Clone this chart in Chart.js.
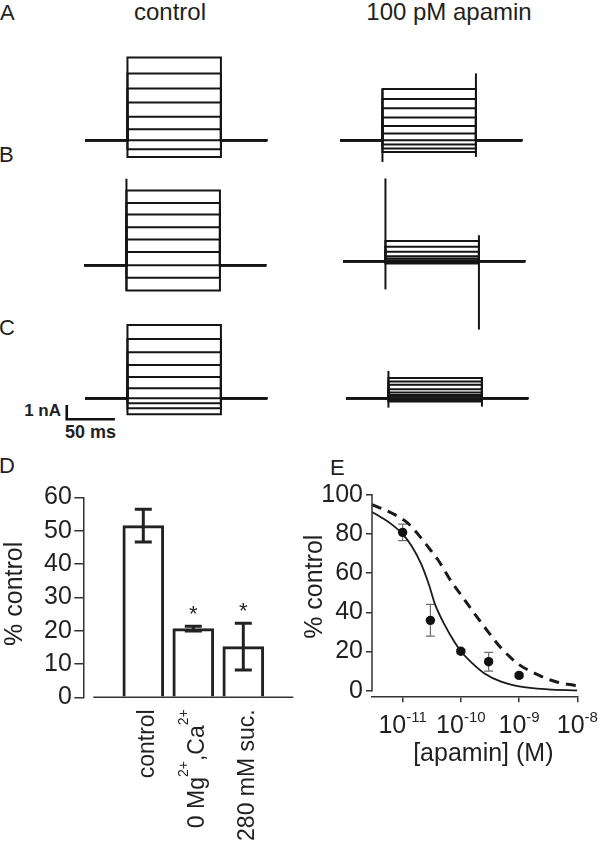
<!DOCTYPE html>
<html><head><meta charset="utf-8">
<script src="https://cdn.jsdelivr.net/npm/chart.js@4/dist/chart.umd.min.js"></script>
<style>
html,body{margin:0;padding:0;background:#fff;}
body{width:600px;height:845px;position:relative;overflow:hidden;font-family:"Liberation Sans",Arial,Helvetica,sans-serif;color:#231f20;}
canvas{position:absolute;}
.t{position:absolute;white-space:nowrap;line-height:1;}
</style></head><body>
<div class="t" style="left:0px;top:2px;font-size:22px">A</div>
<div class="t" style="left:-1px;top:144px;font-size:22px">B</div>
<div class="t" style="left:-1px;top:317px;font-size:22px">C</div>
<div class="t" style="left:-1px;top:455px;font-size:22px">D</div>
<div class="t" style="left:330px;top:457px;font-size:22px">E</div>
<div class="t" style="left:170px;top:0px;font-size:24px;transform:translateX(-50%)">control</div>
<div class="t" style="left:449px;top:0px;font-size:24px;transform:translateX(-50%)">100 pM apamin</div>
<div class="t" style="left:61px;top:402px;font-size:17px;font-weight:bold;transform:translateX(-100%)">1 nA</div>
<div class="t" style="left:65px;top:423px;font-size:18px;font-weight:bold">50 ms</div>
<script>
// ---------------- data ----------------
// voltage-step sweeps: [sweep start, pulse on, pulse off, sweep end] in ms
const sweepTimes = [-44, 0, 97, 145];
// steady current levels during the pulse (nA, relative to holding baseline)
const ctrlA = [5.77, 4.65, 3.61, 2.63, 1.63, 0.77, 0, -0.63, -1.17];
const apaA  = [3.57, 2.87, 2.22, 1.59, 0.98, 0.47, 0, -0.30, -0.58, -0.82];
const ctrlB = [5.21, 4.33, 3.54, 2.65, 1.79, 0.91, 0, -0.88, -1.77];
const apaB  = [1.40, 1.00, 0.65, 0.35, 0.19, 0.07, 0, -0.08, -0.16];
const ctrlC = [5.11, 4.12, 3.21, 2.32, 1.47, 0.70, 0, -0.35, -0.70, -1.12];
const apaC  = [1.40, 1.16, 0.93, 0.63, 0.40, 0.22, 0.10, 0, -0.12, -0.23];
// capacitive transients [min, max] (nA) at pulse on / pulse off
const apaASpikes  = [[-1.52, 3.57], [-1.17, 4.66]];
const ctrlBSpikes = [[-1.77, 6.03], null];
const apaBSpikes  = [[-1.97, 5.77], [-4.77, 1.81]];
const apaCSpikes  = [[-0.66, 1.90], [-0.59, 1.40]];
// scale bar: origin (ms, nA) and size (ms, nA)
const scaleBarOrigin = [-63, -1.47];
const scaleBarSize = [50, 1];

// panel D
const dCategories = ['control', '0 Mg²⁺,Ca²⁺', '280 mM suc.'];
const dValues = [51.5, 20.6, 15.2];
const dErrors = [4.9, 0.7, 7.0];
const dStars = ['', '*', '*'];
const dYTicks = [0, 10, 20, 30, 40, 50, 60];

// panel E
const eConc = [1e-11, 3e-11, 1e-10, 3e-10, 1e-9];
const eValues = [80.8, 35.9, 20.1, 14.8, 7.8];
const eErrors = [4.2, 8.1, 1.0, 4.8, 1.0];
const eSolidX = [2.98e-12, 4.31e-12, 6.40e-12, 1.0e-11, 1.41e-11, 2.09e-11, 2.90e-11, 3.54e-11, 5.25e-11, 7.78e-11, 1.0e-10, 1.50e-10, 2.55e-10, 4.91e-10, 1.0e-9, 3.10e-9, 1.0e-8];
const eSolidY = [91.2, 88.4, 85.0, 79.9, 74.1, 64.6, 53.2, 44.7, 33.7, 24.8, 20.1, 14.6, 8.8, 4.6, 2.2, 0.7, 0.2];
const eDashX = [2.98e-12, 4.91e-12, 8.32e-12, 1.23e-11, 1.83e-11, 2.55e-11, 4.04e-11, 6.82e-11, 1.0e-10, 1.69e-10, 2.90e-10, 4.91e-10, 1.0e-9, 1.83e-9, 4.04e-9, 1.0e-8];
const eDashY = [94.9, 92.3, 88.9, 85.5, 79.9, 74.5, 66.8, 55.8, 49.0, 39.6, 30.3, 21.8, 13.3, 9.0, 4.8, 2.4];
const eXTicks = [1e-11, 1e-10, 1e-9, 1e-8];
const eXTickLabels = ['10⁻¹¹', '10⁻¹⁰', '10⁻⁹', '10⁻⁸'];
const eYTicks = [0, 20, 40, 60, 80, 100];

// ---------------- helpers ----------------
const FONT = '"Liberation Sans", Arial, Helvetica, sans-serif';
const INK = '#231f20';
Chart.defaults.font.family = FONT;
Chart.defaults.color = INK;
const SUP = {'⁰':'0','¹':'1','²':'2','³':'3','⁴':'4','⁵':'5','⁶':'6','⁷':'7','⁸':'8','⁹':'9','⁺':'+','⁻':'-'};
function runs(text){
  const out = [];
  for (const ch of text){
    const sup = ch in SUP; const c = sup ? SUP[ch] : ch;
    const last = out[out.length-1];
    if (last && last.sup === sup) last.t += c; else out.push({t:c, sup});
  }
  return out;
}
function richWidth(ctx, text, size, supSize){
  let w = 0;
  for (const r of runs(text)){ ctx.font = `${r.sup?supSize:size}px ${FONT}`; w += ctx.measureText(r.t).width; }
  return w;
}
function drawRich(ctx, text, x, y, size, supSize, raise){
  let cx = x;
  ctx.textAlign = 'left'; ctx.textBaseline = 'alphabetic';
  for (const r of runs(text)){
    ctx.font = `${r.sup?supSize:size}px ${FONT}`;
    ctx.fillText(r.t, cx, r.sup ? y - raise : y);
    cx += ctx.measureText(r.t).width;
  }
}
function makeCanvas(left, top, w, h){
  const cv = document.createElement('canvas');
  cv.width = w; cv.height = h;
  cv.style.left = left + 'px'; cv.style.top = top + 'px';
  cv.style.width = w + 'px'; cv.style.height = h + 'px';
  document.body.appendChild(cv);
  return cv;
}

// ---------------- trace panels A-C ----------------
function traceCell(left, top, levels, spikes, withBar){
  const cv = makeCanvas(left, top, 212, 172);
  const [t0, on, off, t1] = sweepTimes;
  const ds = levels.map(L => ({data:[{x:t0,y:0},{x:on,y:0},{x:on,y:L},{x:off,y:L},{x:off,y:0},{x:t1,y:0}]}));
  if (spikes) [on, off].forEach((t, k) => { const s = spikes[k]; if (s) ds.push({data:[{x:t,y:s[0]},{x:t,y:s[1]}]}); });
  if (withBar){
    const [bx, by] = scaleBarOrigin, [bw, bh] = scaleBarSize;
    ds.push({data:[{x:bx,y:by+bh},{x:bx,y:by},{x:bx+bw,y:by}], borderWidth:2.6, borderColor:'#111'});
  }
  new Chart(cv, {
    type:'line',
    data:{datasets: ds.map(d => Object.assign({borderColor:'#151515', borderWidth:2, pointRadius:0, tension:0, borderJoinStyle:'miter', borderCapStyle:'butt', fill:false}, d))},
    options:{
      responsive:false, animation:false, devicePixelRatio:1,
      layout:{padding:0},
      plugins:{legend:{display:false}, tooltip:{enabled:false}},
      scales:{
        x:{type:'linear', min:-70, max:150, display:false},
        y:{type:'linear', min:-5.5, max:6.5, display:false}
      }
    }
  });
}
traceCell(60, 47, ctrlA, null, false);
traceCell(315, 47, apaA, apaASpikes, false);
traceCell(59, 172, ctrlB, ctrlBSpikes, false);
traceCell(318, 168, apaB, apaBSpikes, false);
traceCell(60, 305, ctrlC, null, true);
traceCell(321, 305, apaC, apaCSpikes, false);

// ---------------- panel D ----------------
const cD = makeCanvas(0, 440, 300, 405);
new Chart(cD, {
  type:'bar',
  data:{datasets:[{
    data: dValues.map((v,i) => ({x:i+1, y:v})),
    backgroundColor:'#fff', borderColor:'#222', borderWidth:3, borderSkipped:'start', barThickness:41
  }]},
  options:{
    responsive:false, animation:false, devicePixelRatio:1,
    layout:{padding:{left:0, top:57.3, right:6.7, bottom:0}},
    plugins:{legend:{display:false}, tooltip:{enabled:false}},
    scales:{
      x:{type:'linear', min:-0.2, max:4, offset:false, grid:{display:false}, border:{display:false}, ticks:{display:false},
         afterFit: s => { s.height = 147.7; }},
      y:{type:'linear', min:0, max:60, offset:false,
         afterBuildTicks: s => { s.ticks = dYTicks.map(v => ({value:v})); },
         ticks:{font:{size:25}, color:INK, padding:2.5},
         grid:{drawOnChartArea:false, tickLength:9, color:'#333', lineWidth:1.5},
         border:{color:'#333', width:1.5},
         afterFit: s => { s.width = 83.3; }}
    }
  },
  plugins:[{
    id:'dExtras',
    afterDatasetsDraw(chart){
      const {ctx, scales:{x, y}} = chart;
      ctx.save();
      // x axis line (offset from y axis)
      const y0 = y.getPixelForValue(0);
      ctx.strokeStyle = '#333'; ctx.lineWidth = 1.5;
      ctx.beginPath(); ctx.moveTo(x.getPixelForValue(0), y0); ctx.lineTo(x.getPixelForValue(4), y0); ctx.stroke();
      // error bars
      ctx.strokeStyle = '#222'; ctx.lineWidth = 3;
      dValues.forEach((v, i) => {
        const px = x.getPixelForValue(i+1);
        const hi = y.getPixelForValue(v + dErrors[i]), lo = y.getPixelForValue(v - dErrors[i]);
        ctx.beginPath();
        ctx.moveTo(px, hi); ctx.lineTo(px, lo);
        ctx.moveTo(px-8.5, hi); ctx.lineTo(px+8.5, hi);
        ctx.moveTo(px-8.5, lo); ctx.lineTo(px+8.5, lo);
        ctx.stroke();
        if (dStars[i]){
          ctx.fillStyle = INK; ctx.font = `22px ${FONT}`; ctx.textAlign = 'center'; ctx.textBaseline = 'alphabetic';
          ctx.fillText(dStars[i], px, Math.min(hi, y.getPixelForValue(v)) - 5);
        }
      });
      // rotated category labels
      ctx.fillStyle = INK;
      dCategories.forEach((lab, i) => {
        const px = x.getPixelForValue(i+1);
        const w = richWidth(ctx, lab, 23, 14);
        ctx.save();
        ctx.translate(px + 11, y0 + 12);
        ctx.rotate(-Math.PI/2);
        drawRich(ctx, lab, -w, 0, 23, 14, 16);
        ctx.restore();
      });
      // y title
      ctx.save();
      ctx.translate(15, (chart.chartArea.top + chart.chartArea.bottom)/2 - 3.5);
      ctx.rotate(-Math.PI/2);
      ctx.font = `25px ${FONT}`; ctx.textAlign = 'center'; ctx.textBaseline = 'middle';
      ctx.fillText('% control', 0, 0);
      ctx.restore();
      ctx.restore();
    }
  }]
});

// ---------------- panel E ----------------
const cE = makeCanvas(300, 440, 300, 405);
new Chart(cE, {
  type:'scatter',
  data:{datasets:[
    {type:'scatter', data: eConc.map((c,i) => ({x:c, y:eValues[i]})), backgroundColor:'#111', borderColor:'#111', pointRadius:4.7, pointBorderWidth:0},
    {type:'line', data: eSolidX.map((c,i) => ({x:c, y:eSolidY[i]})), borderColor:'#1a1a1a', borderWidth:1.8, pointRadius:0, cubicInterpolationMode:'monotone', fill:false},
    {type:'line', data: eDashX.map((c,i) => ({x:c, y:eDashY[i]})), borderColor:'#1a1a1a', borderWidth:3, borderDash:[10,7], pointRadius:0, cubicInterpolationMode:'monotone', fill:false}
  ]},
  options:{
    responsive:false, animation:false, devicePixelRatio:1,
    layout:{padding:{left:0, top:54.7, right:22.7, bottom:0}},
    plugins:{legend:{display:false}, tooltip:{enabled:false}},
    scales:{
      x:{type:'logarithmic', min:2.98e-12, max:1e-8, offset:false,
         afterBuildTicks: s => { s.ticks = eXTicks.map(v => ({value:v})); },
         ticks:{display:false},
         grid:{drawOnChartArea:false, tickLength:6, color:'#333', lineWidth:1.5},
         border:{color:'#333', width:1.5},
         afterFit: s => { s.height = 148.7; }},
      y:{type:'linear', min:-2.86, max:100, offset:false,
         afterBuildTicks: s => { s.ticks = eYTicks.map(v => ({value:v})); },
         ticks:{font:{size:25}, color:INK, padding:3},
         grid:{drawOnChartArea:false, tickLength:6, color:'#333', lineWidth:1.5},
         border:{display:false},
         afterFit: s => { s.width = 72; }}
    }
  },
  plugins:[{
    id:'eErr',
    beforeDatasetsDraw(chart){
      const {ctx, scales:{x, y}} = chart;
      ctx.save();
      ctx.strokeStyle = '#6e6e6e'; ctx.lineWidth = 1.2;
      eConc.forEach((c, i) => {
        const px = x.getPixelForValue(c);
        const hi = y.getPixelForValue(eValues[i] + eErrors[i]), lo = y.getPixelForValue(eValues[i] - eErrors[i]);
        ctx.beginPath();
        ctx.moveTo(px, hi); ctx.lineTo(px, lo);
        ctx.moveTo(px-4.5, hi); ctx.lineTo(px+4.5, hi);
        ctx.moveTo(px-4.5, lo); ctx.lineTo(px+4.5, lo);
        ctx.stroke();
      });
      ctx.restore();
    },
    afterDraw(chart){
      const {ctx, chartArea, scales:{x, y}} = chart;
      ctx.save();
      // y axis line from top tick to 0
      ctx.strokeStyle = '#333'; ctx.lineWidth = 1.5;
      ctx.beginPath();
      ctx.moveTo(chartArea.left, y.getPixelForValue(eYTicks[eYTicks.length-1]) - 0.75);
      ctx.lineTo(chartArea.left, y.getPixelForValue(eYTicks[0]) + 0.75);
      ctx.stroke();
      // x tick labels with exponents
      ctx.fillStyle = INK;
      eXTicks.forEach((v, i) => {
        const px = x.getPixelForValue(v);
        const w = richWidth(ctx, eXTickLabels[i], 25, 15);
        drawRich(ctx, eXTickLabels[i], px - w/2, chartArea.bottom + 37, 25, 15, 11.6);
      });
      // titles
      ctx.font = `25px ${FONT}`; ctx.textAlign = 'center'; ctx.textBaseline = 'alphabetic';
      ctx.fillText('[apamin] (M)', 183.3, 321.3);
      ctx.save();
      ctx.translate(15, 146.7);
      ctx.rotate(-Math.PI/2);
      ctx.textBaseline = 'middle';
      ctx.fillText('% control', 0, 0);
      ctx.restore();
      ctx.restore();
    }
  }]
});
</script>
</body></html>
